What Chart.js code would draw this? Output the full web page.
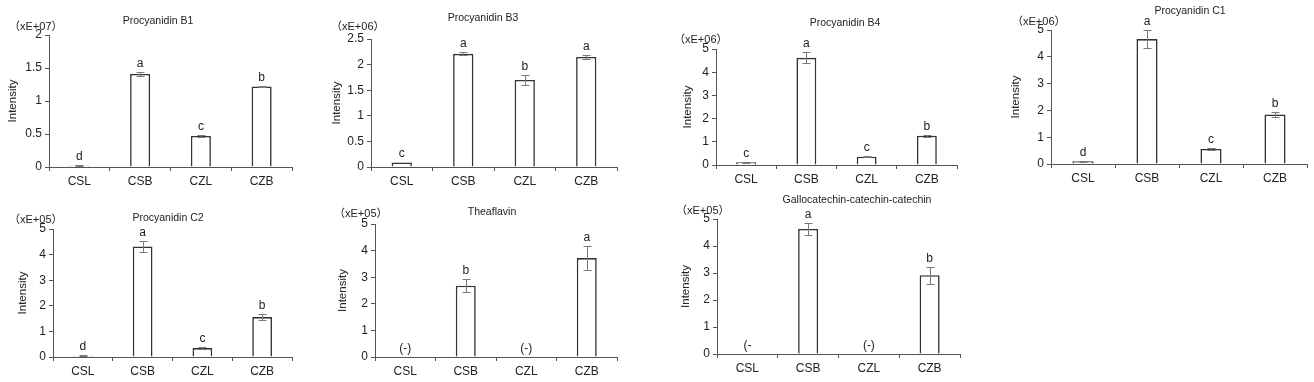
<!DOCTYPE html>
<html><head><meta charset="utf-8">
<script src="https://cdn.jsdelivr.net/npm/chart.js@4.4.1/dist/chart.umd.min.js"></script>
<style>
html,body{margin:0;padding:0;background:#fff;width:1314px;height:382px;overflow:hidden;position:relative}
canvas{position:absolute}
</style></head><body>
<script>
// ---- data ----
const categories = ['CSL', 'CSB', 'CZL', 'CZB'];

const titles = ['Procyanidin B1', 'Procyanidin B3', 'Procyanidin B4', 'Procyanidin C1',
                'Procyanidin C2', 'Theaflavin', 'Gallocatechin-catechin-catechin'];
const units = ['（xE+07）', '（xE+06）', '（xE+06）', '（xE+06）', '（xE+05）', '（xE+05）', '（xE+05）'];
const yMax = [2, 2.5, 5, 5, 5, 5, 5];
const yStep = [0.5, 0.5, 1, 1, 1, 1, 1];

const b1Values = [0.02, 1.41, 0.47, 1.22];
const b1Errors = [0.005, 0.03, 0.01, 0.01];
const b1Letters = ['d', 'a', 'c', 'b'];

const b3Values = [0.09, 2.21, 1.70, 2.15];
const b3Errors = [0, 0.03, 0.09, 0.04];
const b3Letters = ['c', 'a', 'b', 'a'];

const b4Values = [0.12, 4.62, 0.36, 1.26];
const b4Errors = [0.02, 0.24, 0.01, 0.05];
const b4Letters = ['c', 'a', 'c', 'b'];

const c1Values = [0.10, 4.66, 0.56, 1.85];
const c1Errors = [0.01, 0.34, 0.05, 0.10];
const c1Letters = ['d', 'a', 'c', 'b'];

const c2Values = [0.05, 4.32, 0.35, 1.56];
const c2Errors = [0.01, 0.21, 0.05, 0.11];
const c2Letters = ['d', 'a', 'c', 'b'];

const tfValues = [0, 2.68, 0, 3.72];
const tfErrors = [0, 0.25, 0, 0.45];
const tfLetters = ['(-)', 'b', '(-)', 'a'];

const gccValues = [0, 4.63, 0, 2.92];
const gccErrors = [0, 0.22, 0, 0.31];
const gccLetters = ['(-', 'a', '(-)', 'b'];

// ---- layout (page pixel positions of each panel) ----
const layouts = [
  {x0: 49,   top: 35,  bottom: 167, right: 292,  titleX: 158,  titleY: 21,  unitX: 9,    unitY: 27,  intX: 13},
  {x0: 371,  top: 39,  bottom: 167, right: 617,  titleX: 483,  titleY: 18,  unitX: 331,  unitY: 27,  intX: 337},
  {x0: 716,  top: 49,  bottom: 165, right: 957,  titleX: 845,  titleY: 23,  unitX: 674,  unitY: 40,  intX: 688},
  {x0: 1051, top: 30,  bottom: 164, right: 1307, titleX: 1190, titleY: 11,  unitX: 1012, unitY: 22,  intX: 1016},
  {x0: 53,   top: 229, bottom: 357, right: 292,  titleX: 168,  titleY: 218, unitX: 9,    unitY: 220, intX: 23},
  {x0: 375,  top: 224, bottom: 357, right: 617,  titleX: 492,  titleY: 212, unitX: 334,  unitY: 214, intX: 343},
  {x0: 717,  top: 219, bottom: 354, right: 960,  titleX: 857,  titleY: 200, unitX: 676,  unitY: 211, intX: 686}
];

const panelValues = [b1Values, b3Values, b4Values, c1Values, c2Values, tfValues, gccValues];
const panelErrors = [b1Errors, b3Errors, b4Errors, c1Errors, c2Errors, tfErrors, gccErrors];
const panelLetters = [b1Letters, b3Letters, b4Letters, c1Letters, c2Letters, tfLetters, gccLetters];

const FONT = '"Liberation Sans", Arial, "Noto Sans CJK JP", sans-serif';
const TXT = '#222';
const AXIS = '#555';
const PADL = 60, PADT = 45, PADR = 8, PADB = 30;

function makeDeco(idx) {
  const L = layouts[idx];
  return {
    id: 'deco' + idx,
    afterDatasetsDraw(chart) {
      const ctx = chart.ctx;
      const ys = chart.scales.y;
      const meta = chart.getDatasetMeta(0);
      const vals = panelValues[idx], errs = panelErrors[idx], lets = panelLetters[idx];
      ctx.save();
      ctx.strokeStyle = '#7a7a7a';
      ctx.lineWidth = 1;
      meta.data.forEach((bar, i) => {
        const v = vals[i], e = errs[i];
        const x = Math.round(bar.x) + 0.5;
        if (e > 0) {
          const yt = Math.round(ys.getPixelForValue(v + e)) + 0.5;
          const yb = Math.round(ys.getPixelForValue(v - e)) + 0.5;
          ctx.beginPath();
          ctx.moveTo(x, yt); ctx.lineTo(x, yb);
          ctx.moveTo(x - 4, yt); ctx.lineTo(x + 4, yt);
          ctx.moveTo(x - 4, yb); ctx.lineTo(x + 4, yb);
          ctx.stroke();
        }
        const ytop = ys.getPixelForValue(v + e);
        ctx.fillStyle = TXT;
        ctx.font = '12px ' + FONT;
        ctx.textAlign = 'center';
        ctx.textBaseline = 'alphabetic';
        ctx.fillText(lets[i], bar.x, ytop - 5);
      });
      ctx.restore();
    },
    afterDraw(chart) {
      const ctx = chart.ctx;
      const ox = L.x0 - PADL, oy = L.top - PADT;
      ctx.save();
      ctx.fillStyle = TXT;
      ctx.textBaseline = 'middle';
      ctx.font = '10.5px ' + FONT;
      ctx.textAlign = 'center';
      ctx.fillText(titles[idx], L.titleX - ox, L.titleY - oy);
      ctx.font = '11px ' + FONT;
      ctx.textAlign = 'left';
      ctx.fillText(units[idx], L.unitX - ox, L.unitY - oy);
      ctx.translate(L.intX - ox, (L.top + L.bottom) / 2 - oy);
      ctx.rotate(-Math.PI / 2);
      ctx.textAlign = 'center';
      ctx.font = '11.5px ' + FONT;
      ctx.fillText('Intensity', 0, 0);
      ctx.restore();
    }
  };
}

layouts.forEach((L, idx) => {
  const c = document.createElement('canvas');
  const w = L.right - L.x0 + PADL + PADR;
  const h = L.bottom - L.top + PADT + PADB;
  c.width = w; c.height = h;
  c.style.left = (L.x0 - PADL) + 'px';
  c.style.top = (L.top - PADT) + 'px';
  c.style.width = w + 'px'; c.style.height = h + 'px';
  document.body.appendChild(c);
  new Chart(c, {
    type: 'bar',
    data: {
      labels: categories,
      datasets: [{
        data: panelValues[idx],
        backgroundColor: '#ffffff',
        borderColor: '#333333',
        borderWidth: 1.6,
        barPercentage: 0.33,
        categoryPercentage: 1
      }]
    },
    options: {
      responsive: false,
      animation: false,
      devicePixelRatio: 1,
      layout: {padding: {left: 0, top: PADT, right: PADR, bottom: 0}},
      plugins: {legend: {display: false}, tooltip: {enabled: false}, title: {display: false}},
      scales: {
        x: {
          offset: true,
          grid: {display: true, drawOnChartArea: false, offset: true, tickLength: 4, color: AXIS, tickColor: AXIS},
          border: {display: true, color: AXIS, width: 1},
          ticks: {color: TXT, font: {family: FONT, size: 12}, padding: 3, maxRotation: 0},
          afterFit(s) { s.height = PADB; }
        },
        y: {
          min: 0, max: yMax[idx],
          grid: {display: true, drawOnChartArea: false, tickLength: 4, color: AXIS, tickColor: AXIS},
          border: {display: true, color: AXIS, width: 1},
          ticks: {stepSize: yStep[idx], color: TXT, font: {family: FONT, size: 12}, padding: 3,
                  callback: (v) => String(parseFloat(Number(v).toFixed(2)))},
          afterFit(s) { s.width = PADL; }
        }
      }
    },
    plugins: [makeDeco(idx)]
  });
});
</script>
</body></html>
